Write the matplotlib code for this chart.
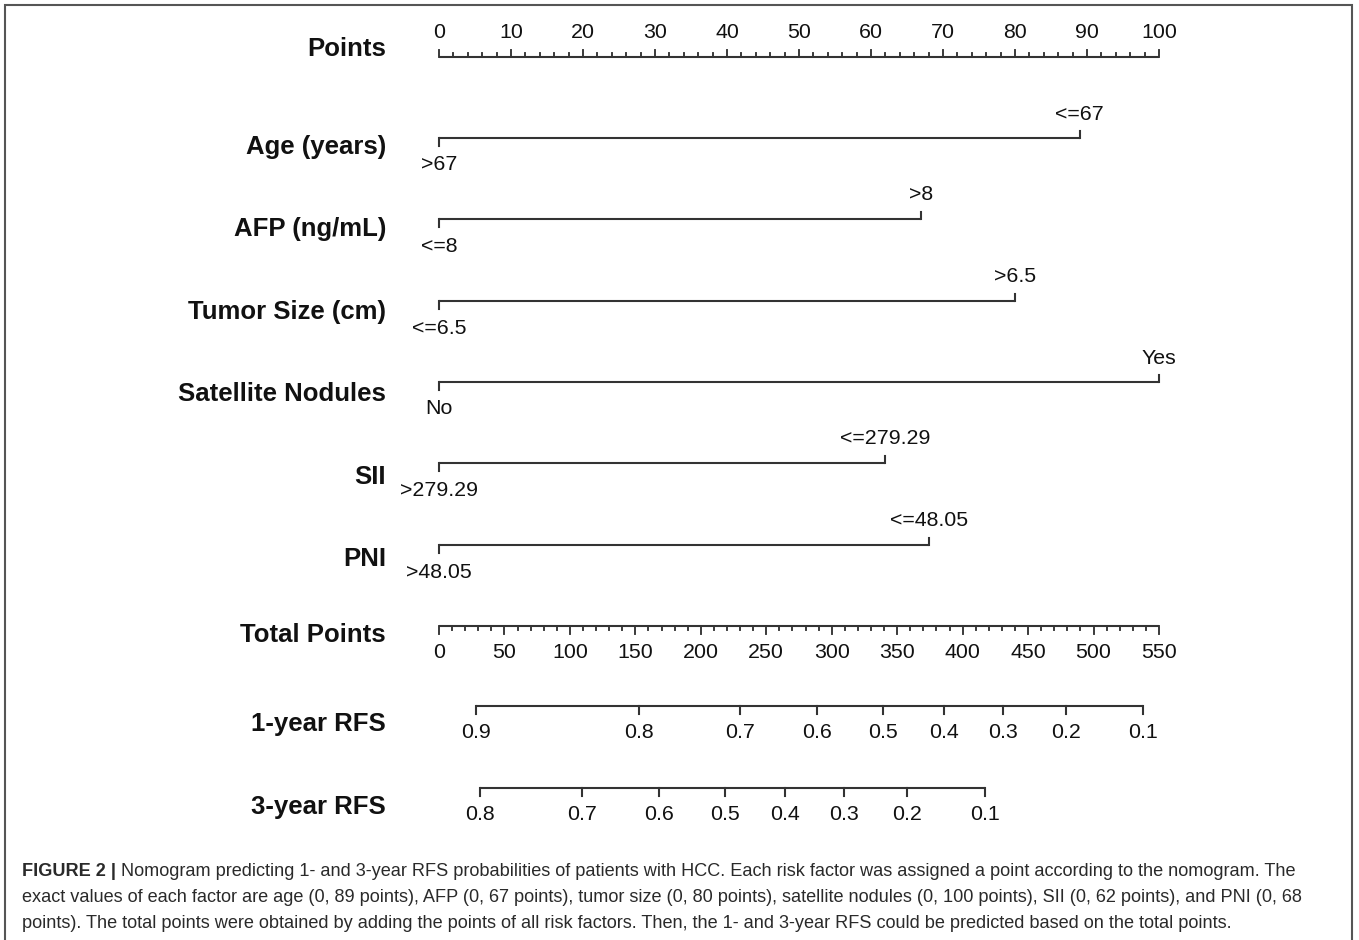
import matplotlib
matplotlib.use('Agg')
import matplotlib.pyplot as plt
from matplotlib.patches import Rectangle

# ---------------- data ----------------
variables = ['Age (years)', 'AFP (ng/mL)', 'Tumor Size (cm)', 'Satellite Nodules', 'SII', 'PNI']
points_max = [89, 67, 80, 100, 62, 68]
low_labels = ['>67', '<=8', '<=6.5', 'No', '>279.29', '>48.05']
high_labels = ['<=67', '>8', '>6.5', 'Yes', '<=279.29', '<=48.05']

points_ticks = list(range(0, 101, 10))
total_ticks = list(range(0, 551, 50))
total_max = 550

rfs1_probs = ['0.9', '0.8', '0.7', '0.6', '0.5', '0.4', '0.3', '0.2', '0.1']
rfs1_total = [28.0, 152.5, 230.2, 289.1, 339.4, 386.0, 430.6, 478.7, 538.0]
rfs3_probs = ['0.8', '0.7', '0.6', '0.5', '0.4', '0.3', '0.2', '0.1']
rfs3_total = [31.3, 109.0, 168.3, 218.5, 264.5, 309.6, 357.7, 417.1]

caption_bold = 'FIGURE 2 |'
caption_lines = [
    ' Nomogram predicting 1- and 3-year RFS probabilities of patients with HCC. Each risk factor was assigned a point according to the nomogram. The',
    'exact values of each factor are age (0, 89 points), AFP (0, 67 points), tumor size (0, 80 points), satellite nodules (0, 100 points), SII (0, 62 points), and PNI (0, 68',
    'points). The total points were obtained by adding the points of all risk factors. Then, the 1- and 3-year RFS could be predicted based on the total points.',
]

# ---------------- layout ----------------
W, H = 1359, 940
FONT = 'Liberation Sans'
LC = '#333333'
TC = '#111111'
LW = 1.5

fig = plt.figure(figsize=(W / 100, H / 100), dpi=100)
ax = fig.add_axes([0, 0, 1, 1])
X0_PX, X100_PX = 439, 1159
ppx = (X100_PX - X0_PX) / 100.0
ax.set_xlim(-X0_PX / ppx, (W - X0_PX) / ppx)
ax.set_ylim(H, 0)
ax.axis('off')

name_x = (386 - X0_PX) / ppx
name_fs = 18.5
tick_fs = 15.4


def name(txt, y):
    ax.text(name_x, y + 2, txt, ha='right', va='center', fontsize=name_fs,
            fontweight='bold', family=FONT, color=TC)


# Points axis
y_pts = 57
name('Points', 47)
ax.plot([0, 100], [y_pts, y_pts], color=LC, lw=LW, solid_capstyle='butt')
for v in range(0, 101, 2):
    ln = 7 if v % 10 == 0 else 4
    ax.plot([v, v], [y_pts, y_pts - ln], color=LC, lw=LW * 0.9)
for v in points_ticks:
    ax.text(v, 32, str(v), ha='center', va='center', fontsize=tick_fs, family=FONT, color=TC)

# Variable rows
row_y = [138, 219, 301, 382, 463, 545]
name_y = [145, 227, 310, 392, 475, 557]
for var, pm, lo, hi, yy, ny in zip(variables, points_max, low_labels, high_labels, row_y, name_y):
    name(var, ny)
    ax.plot([0, pm], [yy, yy], color=LC, lw=LW, solid_capstyle='butt')
    ax.plot([0, 0], [yy, yy + 8], color=LC, lw=LW)
    ax.plot([pm, pm], [yy, yy - 7], color=LC, lw=LW)
    ax.text(0, yy + 27, lo, ha='center', va='center', fontsize=tick_fs, family=FONT, color=TC)
    ax.text(pm, yy - 24, hi, ha='center', va='center', fontsize=tick_fs, family=FONT, color=TC)

# Total points axis
sc = 100.0 / total_max
y_tot = 626
name('Total Points', 633)
ax.plot([0, total_max * sc], [y_tot, y_tot], color=LC, lw=LW, solid_capstyle='butt')
for v in range(0, total_max + 1, 10):
    ln = 8 if v % 50 == 0 else 4
    ax.plot([v * sc, v * sc], [y_tot, y_tot + ln], color=LC, lw=LW * 0.9)
for v in total_ticks:
    ax.text(v * sc, 652, str(v), ha='center', va='center', fontsize=tick_fs, family=FONT, color=TC)


def prob_axis(label, probs, tots, y_line, y_lab, y_name):
    name(label, y_name)
    xs = [t * sc for t in tots]
    ax.plot([min(xs), max(xs)], [y_line, y_line], color=LC, lw=LW, solid_capstyle='butt')
    for x, p in zip(xs, probs):
        ax.plot([x, x], [y_line, y_line + 8], color=LC, lw=LW)
        ax.text(x, y_lab, p, ha='center', va='center', fontsize=tick_fs, family=FONT, color=TC)


prob_axis('1-year RFS', rfs1_probs, rfs1_total, 706, 733, 722)
prob_axis('3-year RFS', rfs3_probs, rfs3_total, 788, 814, 805)

# Border
fig.add_artist(Rectangle((5 / W, -0.02), (1352 - 5) / W, 1 - 5 / H + 0.02,
                         transform=fig.transFigure, fill=False, edgecolor='#555555', lw=1.5))

# Caption
cap_fs = 13.1
cap_color = '#2a2a2a'
cap_y = [872, 898, 924]
cx = (22 - X0_PX) / ppx
b = ax.text(cx, cap_y[0], caption_bold, ha='left', va='center', fontsize=cap_fs,
            fontweight='bold', family=FONT, color=cap_color)
ax.annotate(caption_lines[0], xy=(1, 0.5), xycoords=b, ha='left', va='center',
            fontsize=cap_fs, family=FONT, color=cap_color)
for line, yy in zip(caption_lines[1:], cap_y[1:]):
    ax.text(cx, yy, line, ha='left', va='center', fontsize=cap_fs, family=FONT, color=cap_color)

fig.savefig('out.png', dpi=100)
